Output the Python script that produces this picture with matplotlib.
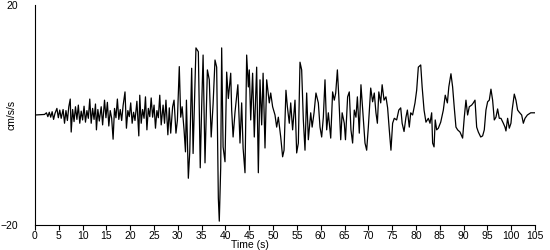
import matplotlib
matplotlib.use('Agg')
from matplotlib import pyplot as plt

plt.rcParams['font.family'] = ['Liberation Sans', 'DejaVu Sans']

# 读图得到的折点（时间 s, 加速度 cm/s/s）
t_early = [0, 2.0, 2.4, 2.7, 3.0, 3.3, 3.6, 3.9, 4.2, 4.6, 4.9, 5.2, 5.5, 5.9, 6.2, 6.5, 6.8,
           7.1, 7.4, 7.6, 7.9, 8.2, 8.5, 8.8, 9.1, 9.4, 9.7, 10.0, 10.3, 10.6, 10.9, 11.2,
           11.5, 11.8, 12.1, 12.4, 12.7, 12.9, 13.2, 13.5, 13.9, 14.2, 14.6, 14.9, 15.2,
           15.5, 15.8, 16.1, 16.4, 16.7, 17.0, 17.3, 17.6, 17.9, 18.2, 18.5, 18.9, 19.2,
           19.5, 19.8, 20.1, 20.4, 20.7, 21.0, 21.4, 21.8, 22.0, 22.3, 22.6, 22.9, 23.2,
           23.5, 23.8, 24.1, 24.4, 24.7, 25.0, 25.3, 25.6, 25.9, 26.2, 26.5, 26.9, 27.2,
           27.5, 27.9, 28.2, 28.5, 28.9, 29.2, 29.6, 29.9]
a_early = [0, 0.1, 0.4, -0.3, 0.5, -0.4, 0.6, -0.8, 0.3, 1.2, -0.5, 0.9, -0.6, 1.0, -1.5, 0.8, -1.0,
           1.5, 2.9, -3.1, 1.0, -1.2, 1.5, -0.8, 1.8, -1.5, 0.7, -0.9, 1.6, -1.3, 0.8, -0.6,
           2.9, -1.5, 1.2, -0.8, 2.0, -2.7, 1.0, -1.1, 1.5, -1.8, 2.7, -0.5, 2.3,
           -2.0, 0.8, -0.6, -4.4, 1.2, -0.5, 2.9, -0.8, 1.0, -1.0, 1.7, 4.2, -2.4,
           0.8, -0.3, 2.2, -1.5, 0.5, -1.0, 2.5, -3.8, 3.6, -1.5, 1.0, -0.6, 3.3,
           -2.7, 1.2, -0.3, 3.1, -0.4, 1.8, -2.4, 0.8, -0.5, 3.6, -1.8, 1.8, -1.5,
           2.7, -3.6, 1.3, -3.3, 1.5, 2.7, -3.3, -1.0]

t_strong = [30.3, 30.6, 30.9, 31.3, 31.6, 31.8, 32.2, 32.5, 32.9, 33.2, 33.8, 34.3, 34.7, 35.0,
            35.3, 35.7, 36.2, 36.6, 37.0, 37.4, 37.8, 38.15, 38.5, 38.7, 39.0, 39.2, 39.5,
            39.9, 40.25, 40.6, 41.1, 41.3, 41.6, 42.0, 42.6, 43.05, 43.4, 43.7, 44.1, 44.45,
            44.8, 45.0, 45.3, 45.7, 46.05, 46.55, 46.9, 47.25, 47.6, 47.9, 48.3, 48.65, 49.2,
            49.5, 49.9, 50.4, 50.75, 51.1, 51.6, 52.0, 52.3, 52.7, 53.0, 53.4, 53.7, 54.1,
            54.6, 54.95, 55.3, 55.65]
a_strong = [8.8, -0.4, 1.5, -2.7, -6.7, 2.7, -11.5, -6.7, 8.5, -7.0, 12.2, 11.5, -9.6, 1.5,
            10.9, -8.7, 8.2, 6.4, -4.0, 2.0, 10.0, 8.7, -15.1, -19.3, -9.5, 12.2, -5.8,
            -8.5, 7.8, 3.0, 7.6, 0.9, -4.0, 0.5, 5.5, -5.1, 2.2, -6.0, -10.5, 10.9,
            5.1, 8.2, -0.9, 7.6, -4.0, 8.7, -10.5, 6.4, -1.8, 7.6, -6.0, 6.4, 2.2,
            4.0, 1.5, 0.0, -2.2, -0.4, -4.0, -7.6, -6.4, 4.5, 1.5, -1.5, 2.2, -2.7,
            2.7, -6.9, -5.1, 9.6]

t_late = [56.0, 56.35, 56.7, 57.05, 57.4, 57.9, 58.2, 58.6, 59.0, 59.5, 59.85, 60.2, 60.55,
          60.9, 61.25, 61.6, 62.1, 62.5, 62.85, 63.15, 63.5, 63.8, 64.2, 64.5, 64.95, 65.2,
          65.65, 66.0, 66.35, 66.7, 67.05, 67.4, 67.7, 68.1, 68.45, 68.95, 69.3, 69.65, 70.0,
          70.5, 70.9, 71.25, 71.6, 71.9, 72.2, 72.6, 72.9, 73.3, 73.7, 74.05, 74.4, 74.75,
          75.1, 75.45, 75.95, 76.4, 76.8, 77.1, 77.5, 77.9, 78.2, 78.6, 78.9, 79.3, 79.8]
a_late = [8.2, -0.9, -6.4, 4.0, -4.5, 0.4, -2.2, 0.4, 4.0, 2.2, -2.2, -4.0, -0.4,
          6.4, -2.7, 0.4, -4.2, 4.2, 2.7, 4.0, 8.2, 3.3, -4.5, 0.4, -1.5, -4.5,
          3.3, 4.2, -2.7, -5.1, 0.9, -0.4, 3.3, -3.3, 5.5, -0.9, -5.1, -6.4, -2.2,
          4.9, 2.4, 4.0, 0.4, -1.5, 4.2, 2.2, 5.5, 2.7, 3.3, 1.3, -2.7, -6.4,
          -1.5, -0.6, -0.9, 0.9, 1.3, -1.5, -3.0, -0.4, 0.9, -2.2, 0.4, 0.0, 2.2]

t_coda = [80.15, 80.5, 81.0, 81.3, 81.7, 82.1, 82.6, 82.95, 83.3, 83.5, 83.8, 84.05, 84.35,
          84.7, 85.2, 85.75, 86.15, 86.6, 86.9, 87.35, 87.7, 88.05, 88.4, 88.75, 89.25, 89.8,
          90.15, 90.5, 90.85, 91.2, 91.7, 92.05, 92.4, 92.75, 93.1, 93.6, 94.0, 94.35, 94.7,
          95.05, 95.4, 95.75, 96.1, 96.45, 96.8, 97.15, 97.5, 97.85, 98.35, 98.7, 98.9,
          99.25, 99.6, 99.95, 100.2, 100.65, 101.0, 101.35, 101.7, 102.2, 102.55, 102.9,
          103.4, 104.1, 105.0]
a_coda = [4.5, 8.7, 9.1, 5.1, 0.9, -1.3, -0.6, -1.5, 0.4, -5.1, -5.8, -0.9, -2.7,
          -2.4, -1.3, 0.9, 3.6, 2.2, 5.1, 7.5, 5.1, 1.3, -2.2, -2.7, -3.1, -4.2,
          -0.4, 2.7, 0.0, 1.5, 1.8, 2.2, 2.7, -2.2, -3.1, -4.0, -3.8, -2.7, 0.9,
          2.4, 2.7, 4.7, 2.7, -0.9, -0.4, 1.1, -0.6, -0.6, -1.5, -2.2, -2.9,
          -0.6, -2.4, -1.5, 0.9, 3.8, 2.7, 0.9, 0.5, 0.0, -1.5, -0.6,
          0.0, 0.4, 0.4]

x_ticks = list(range(0, 106, 5))
y_ticks = [-20, 20]

time = t_early + t_strong + t_late + t_coda
acc = a_early + a_strong + a_late + a_coda

fig = plt.figure(figsize=(5.5, 2.5), dpi=100)
ax = fig.add_axes([35 / 550, 0.1, 500 / 550, 0.88])
ax.plot(time, acc, color='black', linewidth=0.9)

ax.set_xlim(0, 105)
ax.set_ylim(-20, 20)
ax.set_xticks(x_ticks)
ax.set_yticks(y_ticks)
ax.tick_params(axis='x', direction='out', length=3.6, width=0.8, labelsize=7.5, pad=1)
ax.tick_params(axis='y', length=0, labelsize=7.5, pad=12)
for side in ['top', 'right']:
    ax.spines[side].set_visible(False)
for side in ['left', 'bottom']:
    ax.spines[side].set_linewidth(0.8)

ax.set_xlabel('Time (s)', fontsize=7.5)
ax.xaxis.set_label_coords(0.43, -0.07)
ax.set_ylabel('cm/s/s', fontsize=7.5)
ax.yaxis.set_label_coords(-0.037, 0.5)

fig.savefig('out.png', dpi=100)
